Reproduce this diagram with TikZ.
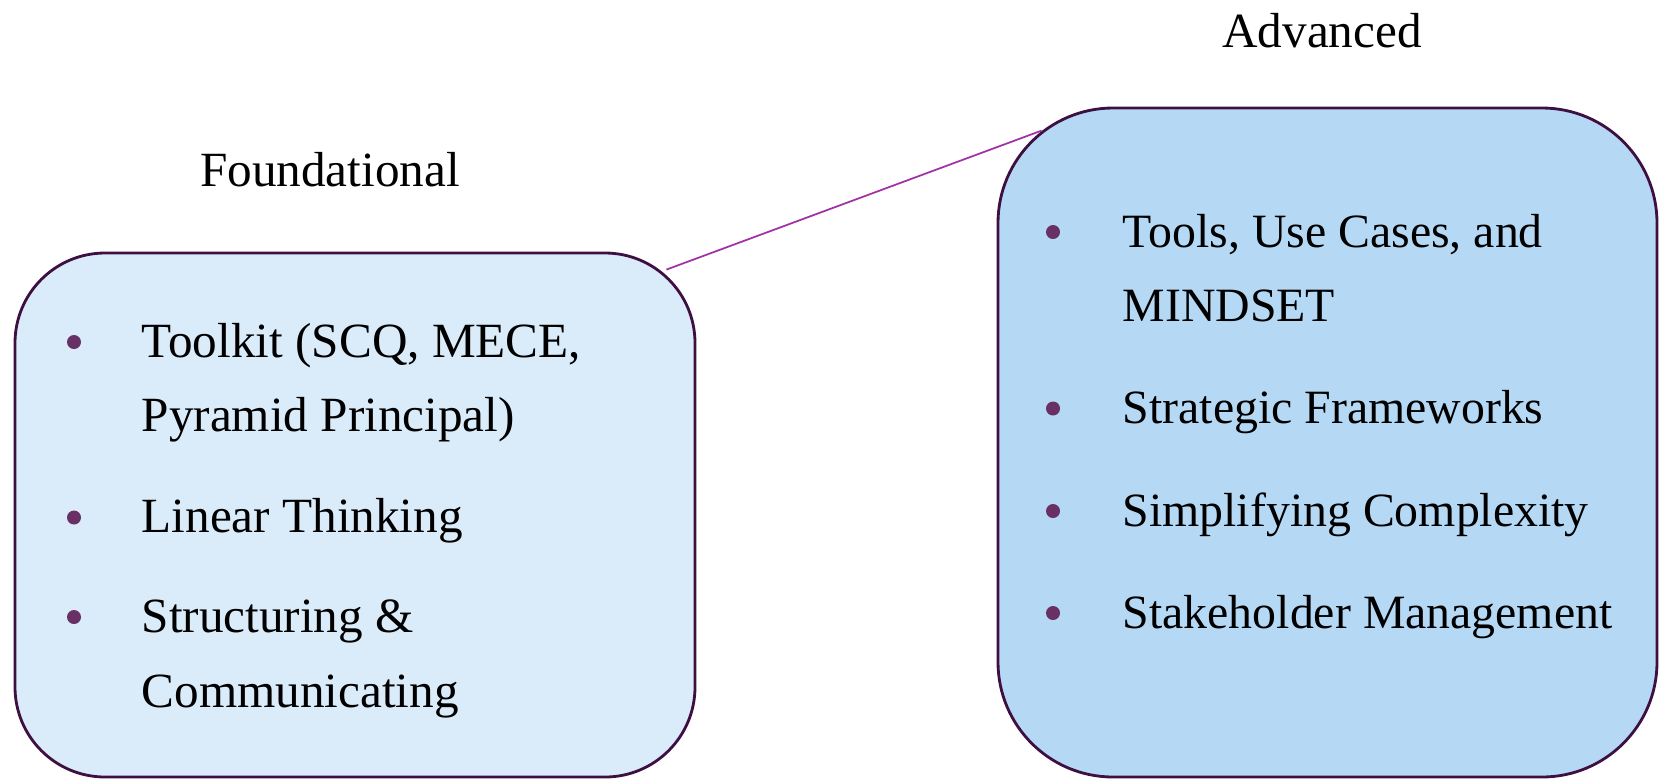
\documentclass[tikz,border=0pt]{standalone}
\usepackage{fontspec}
\setmainfont{Liberation Serif}
\usepackage{tikz}
\usetikzlibrary{calc, positioning}
\definecolor{boxLine}{RGB}{62, 16, 66}
\definecolor{fndFill}{RGB}{218, 235, 249}
\definecolor{advFill}{RGB}{181, 217, 245}
\definecolor{dotPurple}{RGB}{104, 48, 100}
\definecolor{linkPurple}{RGB}{160, 50, 165}

\begin{document}
\begin{tikzpicture}[
  box/.style={draw=boxLine, line width=0.8pt, inner sep=0pt},
  item/.style={anchor=base west, inner sep=0pt, font=\fontsize{14}{16}\selectfont},
  head/.style={anchor=base, inner sep=0pt, font=\fontsize{14}{16}\selectfont},
  dot/.style={circle, fill=dotPurple, inner sep=0pt, minimum size=0.14cm}]
  \useasboundingbox (0,0) rectangle (16.6,7.78);
  \node[box, fill=fndFill, rounded corners=0.9cm, minimum width=6.8cm, minimum height=5.24cm] (fnd) at (3.55,2.63) {};
  \node[box, fill=advFill, rounded corners=1.15cm, minimum width=6.59cm, minimum height=6.69cm] (adv) at (13.275,3.355) {};
  \node[head] (fndhead) at (3.30,5.92) {Foundational};
  \node[head] (advhead) at (13.22,7.31) {Advanced};
  % left list
  \foreach \y/\txt [count=\i] in {4.21/{Toolkit (SCQ, MECE,}, 3.47/{Pyramid Principal)},
      2.455/{Linear Thinking}, 1.46/{Structuring \&}, 0.71/{Communicating}} {
    \node[item] (fi\i) at (1.41,\y) {\txt};
  }
  \foreach \y [count=\i] in {4.21, 2.455, 1.46}
    \node[dot] (fdot\i) at (0.74,\y+0.15) {};
  % right list
  \foreach \y/\txt [count=\i] in {5.31/{Tools, Use Cases, and}, 4.57/{MINDSET},
      3.545/{Strategic Frameworks}, 2.52/{Simplifying Complexity}, 1.50/{Stakeholder Management}} {
    \node[item, font=\fontsize{13.6}{16}\selectfont] (ai\i) at (11.22,\y) {\txt};
  }
  \foreach \y [count=\i] in {5.31, 3.545, 2.52, 1.50}
    \node[dot] (adot\i) at (10.53,\y+0.15) {};
  \coordinate (fndlink) at ($(fnd.north east)+(-0.3,-0.18)$);
  \coordinate (advlink) at ($(adv.north west)+(0.45,-0.24)$);
  \draw[linkPurple, line width=0.5pt] (fndlink) -- (advlink);
\end{tikzpicture}
\end{document}
